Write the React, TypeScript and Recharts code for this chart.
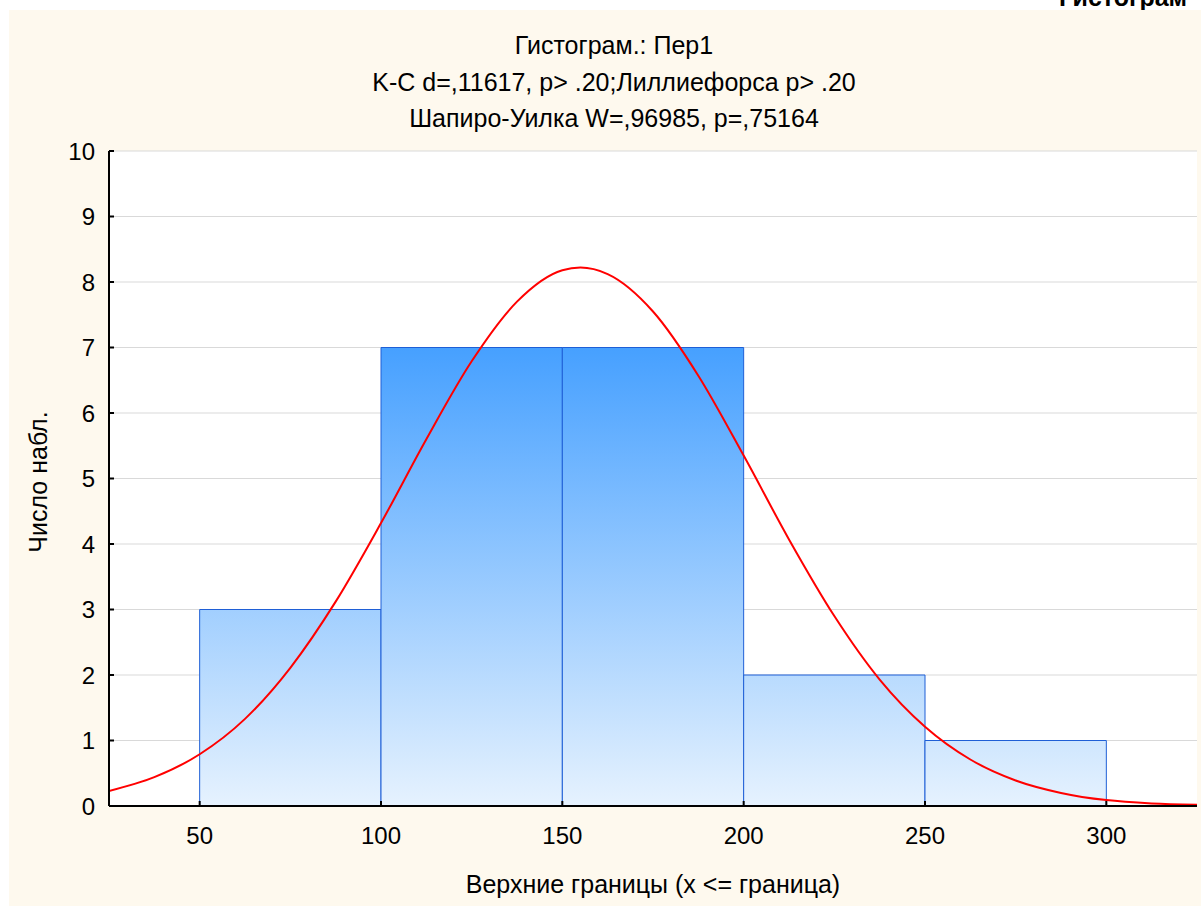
import { ComposedChart, Line, XAxis, YAxis, CartesianGrid, ReferenceArea } from 'recharts'

// histogram bins: lower bound, upper bound, count
const binLower = [50, 100, 150, 200, 250]
const binUpper = [100, 150, 200, 250, 300]
const binCounts = [3, 7, 7, 2, 1]

// fitted normal curve
const curveX = [25, 37.5, 50, 62.5, 75, 87.5, 100, 112.5, 125, 137.5, 150, 155, 162.5, 175, 187.5, 200, 212.5, 225, 237.5, 250, 262.5, 275, 287.5, 300, 312.5, 325]
const curveY = [0.23, 0.44, 0.79, 1.33, 2.11, 3.12, 4.32, 5.6, 6.79, 7.7, 8.18, 8.22, 8.12, 7.55, 6.57, 5.35, 4.07, 2.9, 1.93, 1.21, 0.71, 0.39, 0.2, 0.09, 0.04, 0.02]

const xTicks = [50, 100, 150, 200, 250, 300]
const yTicks = [0, 1, 2, 3, 4, 5, 6, 7, 8, 9, 10]

const titleLines = [
    'Гистограм.: Пер1',
    'K-C d=,11617, p> .20;Лиллиефорса p> .20',
    'Шапиро-Уилка W=,96985, p=,75164',
]

const curveData = curveX.map((x, i) => ({ x, y: curveY[i] }))

const font = '"Liberation Sans", Arial, sans-serif'
const axisStroke = { stroke: '#000', strokeWidth: 2 }

export default function App() {
    return (
        <div style={{ position: 'relative', width: 1201, height: 906, background: '#fff', overflow: 'hidden', fontFamily: font }}>
            <style>{`body{margin:0}`}</style>
            <div style={{ position: 'absolute', left: 1059, top: -17, fontSize: 25, fontWeight: 'bold', whiteSpace: 'nowrap', color: '#000' }}>
                Гистограм
            </div>
            <div style={{ position: 'absolute', left: 9, top: 10, width: 1192, height: 896, background: '#fef9ee' }}>
                <ComposedChart
                    width={1192}
                    height={896}
                    data={curveData}
                    margin={{ top: 141, right: 4, left: 60, bottom: 60 }}
                >
                    <defs>
                        <linearGradient id="barFill" gradientUnits="userSpaceOnUse" x1="0" y1="337" x2="0" y2="796">
                            <stop offset="0" stopColor="#46a0ff" />
                            <stop offset="1" stopColor="#e6f2fe" />
                        </linearGradient>
                    </defs>
                    <CartesianGrid vertical={false} stroke="#d9d9d9" fill="#fff" horizontalValues={yTicks} />
                    <XAxis
                        dataKey="x"
                        type="number"
                        domain={[25, 325]}
                        ticks={xTicks}
                        allowDataOverflow
                        height={40}
                        axisLine={axisStroke}
                        tickLine={axisStroke}
                        tickSize={-5}
                        tickMargin={26}
                        tick={{ fill: '#000', fontSize: 24, fontFamily: font }}
                    />
                    <XAxis
                        xAxisId="top"
                        orientation="top"
                        type="number"
                        domain={[25, 325]}
                        ticks={xTicks}
                        allowDataOverflow
                        height={0}
                        axisLine={axisStroke}
                        tickLine={axisStroke}
                        tickSize={-5}
                        tickFormatter={() => ''}
                    />
                    <YAxis
                        type="number"
                        domain={[0, 10]}
                        ticks={yTicks}
                        allowDataOverflow
                        width={40}
                        axisLine={axisStroke}
                        tickLine={axisStroke}
                        tickSize={-5}
                        tickMargin={19}
                        tick={{ fill: '#000', fontSize: 24, fontFamily: font }}
                    />
                    <YAxis
                        yAxisId="right"
                        orientation="right"
                        type="number"
                        domain={[0, 10]}
                        ticks={yTicks}
                        allowDataOverflow
                        width={0}
                        axisLine={axisStroke}
                        tickLine={axisStroke}
                        tickSize={-5}
                        tickFormatter={() => ''}
                    />
                    {binCounts.map((c, i) => (
                        <ReferenceArea
                            key={i}
                            x1={binLower[i]}
                            x2={binUpper[i]}
                            y1={0}
                            y2={c}
                            fill="url(#barFill)"
                            fillOpacity={1}
                            stroke="#1f5fd6"
                            strokeWidth={1}
                        />
                    ))}
                    <Line
                        dataKey="y"
                        type="monotone"
                        stroke="#ff0000"
                        strokeWidth={2}
                        dot={false}
                        activeDot={false}
                        isAnimationActive={false}
                    />
                </ComposedChart>
            </div>
            {titleLines.map((t, i) => (
                <div
                    key={i}
                    style={{ position: 'absolute', left: 214, width: 800, top: 30 + i * 36.5, textAlign: 'center', fontSize: 25, lineHeight: '30px', color: '#000', whiteSpace: 'nowrap' }}
                >
                    {t}
                </div>
            ))}
            <div style={{ position: 'absolute', left: 38, top: 482, fontSize: 25, color: '#000', whiteSpace: 'nowrap', transform: 'translate(-50%, -50%) rotate(-90deg)' }}>
                Число набл.
            </div>
            <div style={{ position: 'absolute', left: 253, width: 800, top: 869, textAlign: 'center', fontSize: 25, lineHeight: '30px', color: '#000', whiteSpace: 'nowrap' }}>
                Верхние границы (x &lt;= граница)
            </div>
        </div>
    )
}
